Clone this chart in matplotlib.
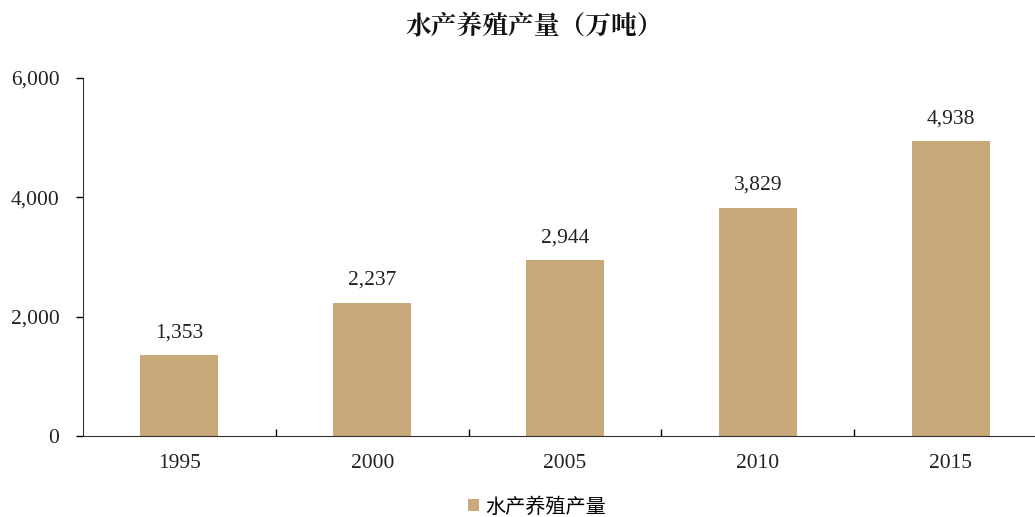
import matplotlib
matplotlib.use("Agg")
import matplotlib.pyplot as plt
from matplotlib.ticker import FuncFormatter, FixedLocator

years = ["1995", "2000", "2005", "2010", "2015"]
values = [1353, 2237, 2944, 3829, 4938]
series_name = "水产养殖产量"
title = "水产养殖产量（万吨）"
yticks = [0, 2000, 4000, 6000]

plt.rcParams["xtick.direction"] = "in"
plt.rcParams["ytick.direction"] = "out"

W, H = 1035, 517
fig = plt.figure(figsize=(W / 100, H / 100), dpi=100)
left, right, top, bottom = 83, 1047, 78, 436
ax = fig.add_axes([left / W, 1 - bottom / H, (right - left) / W, (bottom - top) / H])

color = "#C9A97A"
x = list(range(len(years)))
bars = ax.bar(x, values, width=0.405, color=color, label=series_name, zorder=2)

ax.set_xlim(-0.5, len(years) - 0.5)
ax.set_ylim(0, 6000)
ax.set_yticks(yticks)
ax.yaxis.set_major_formatter(FuncFormatter(lambda v, p: f"{int(v):,}"))

ax.set_xticks(x)
ax.set_xticklabels(years)
ax.xaxis.set_minor_locator(FixedLocator([i + 0.5 for i in range(len(years) - 1)]))
ax.tick_params(axis="x", which="major", length=0, pad=13)
ax.tick_params(axis="x", which="minor", direction="in", length=5, width=1, color="black")
ax.tick_params(axis="y", direction="out", length=5, width=1, pad=12)

serif = ["Liberation Serif", "DejaVu Serif"]
for lab in ax.get_xticklabels() + ax.get_yticklabels():
    lab.set_fontfamily(serif)
    lab.set_fontsize(15.5)
    lab.set_color("#222222")

for s in ["top", "right"]:
    ax.spines[s].set_visible(False)
ax.spines["left"].set_color("#333333")
ax.spines["bottom"].set_color("#333333")

for xi, v in zip(x, values):
    ax.annotate(f"{v:,}", (xi, v), xytext=(0, 9), textcoords="offset points",
                ha="center", va="bottom", fontsize=15.5, color="#222222",
                family=serif)

fig.text(534 / W, 1 - 27 / H, title, ha="center", va="center", fontsize=18.5,
         fontweight="bold", family=["Noto Serif CJK SC", "Noto Sans CJK SC", "DejaVu Sans"],
         color="#111111")

leg = fig.legend(handles=[bars], labels=[series_name], loc="center",
                 bbox_to_anchor=(537 / W, 1 - 507 / H), frameon=False,
                 prop={"family": ["Noto Sans CJK SC", "DejaVu Sans"], "size": 14.5},
                 handlelength=0.55, handleheight=0.55, handletextpad=0.35)

fig.savefig("out.png", dpi=100)
